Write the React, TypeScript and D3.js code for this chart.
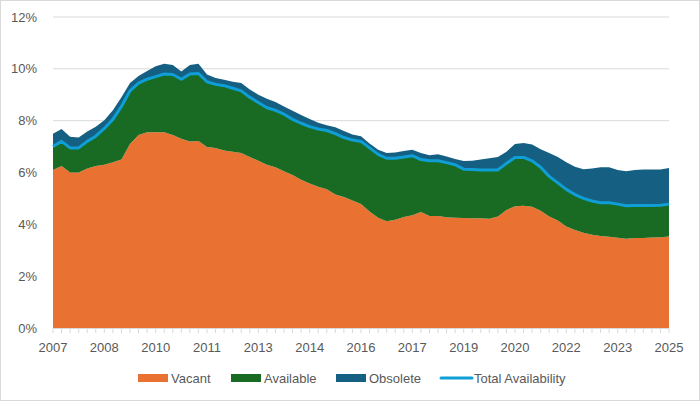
import React, { useEffect, useRef } from 'react';
import * as d3 from 'd3';

// quarterly, 2007 Q1 .. 2025 Q1 (percent of inventory)
const vacant = [
  6.1, 6.25, 6.0, 6.0, 6.15, 6.25, 6.3, 6.4, 6.5, 7.1, 7.45, 7.55, 7.55, 7.55, 7.45, 7.3,
  7.2, 7.22, 6.98, 6.95, 6.85, 6.8, 6.75, 6.6, 6.45, 6.3, 6.2, 6.05, 5.9, 5.72, 5.58, 5.45,
  5.35, 5.15, 5.05, 4.92, 4.78, 4.5, 4.25, 4.12, 4.18, 4.28, 4.35, 4.48, 4.32, 4.32, 4.27, 4.25,
  4.24, 4.23, 4.23, 4.22, 4.3, 4.55, 4.7, 4.72, 4.68, 4.52, 4.3, 4.15, 3.92, 3.78, 3.68, 3.6,
  3.55, 3.52, 3.48, 3.44, 3.47, 3.47, 3.49, 3.5, 3.53,
];
const available = [
  0.9, 0.95, 0.95, 0.95, 1.05, 1.15, 1.4, 1.65, 2.05, 2.05, 2.0, 2.05, 2.15, 2.25, 2.33, 2.3,
  2.6, 2.6, 2.52, 2.45, 2.5, 2.45, 2.4, 2.3, 2.25, 2.2, 2.2, 2.2, 2.15, 2.18, 2.19, 2.23,
  2.27, 2.35, 2.3, 2.33, 2.42, 2.45, 2.45, 2.43, 2.37, 2.32, 2.3, 2.02, 2.13, 2.13, 2.11, 2.05,
  1.89, 1.89, 1.87, 1.88, 1.8, 1.8, 1.88, 1.86, 1.77, 1.68, 1.55, 1.45, 1.43, 1.37, 1.32, 1.3,
  1.28, 1.31, 1.3, 1.28, 1.26, 1.26, 1.24, 1.24, 1.25,
];
const obsolete = [
  0.5, 0.48, 0.43, 0.4, 0.38, 0.37, 0.32, 0.35, 0.35, 0.3, 0.27, 0.32, 0.4, 0.4, 0.37, 0.3,
  0.35, 0.38, 0.28, 0.25, 0.23, 0.25, 0.3, 0.3, 0.3, 0.35, 0.32, 0.3, 0.33, 0.32, 0.29, 0.24,
  0.2, 0.25, 0.25, 0.22, 0.2, 0.17, 0.18, 0.2, 0.22, 0.23, 0.23, 0.25, 0.22, 0.25, 0.24, 0.22,
  0.31, 0.33, 0.4, 0.45, 0.5, 0.45, 0.52, 0.56, 0.63, 0.7, 0.9, 1.0, 1.05, 1.07, 1.13, 1.25,
  1.37, 1.37, 1.32, 1.33, 1.37, 1.39, 1.39, 1.38, 1.39,
];
// one label every 6 quarters
const xLabels = ['2007', '2008', '2010', '2011', '2013', '2014', '2016', '2017', '2019', '2020', '2022', '2023', '2025'];
const yTicks = [0, 2, 4, 6, 8, 10, 12];

const W = 700;
const H = 401;
const FONT = "Aptos, 'Liberation Sans', Arial, sans-serif";
const C_VAC = '#E97132';
const C_AVL = '#196B24';
const C_OBS = '#156082';
const C_TOT = '#0F9ED5';

export default function App() {
  const ref = useRef<SVGSVGElement>(null);

  useEffect(() => {
    if (!ref.current) return;
    const svg = d3.select(ref.current);
    svg.selectAll('*').remove();

    const n = vacant.length;
    const x = d3.scaleLinear().domain([0, n - 1]).range([53, 669]);
    const y = d3.scaleLinear().domain([0, 12]).range([328, 17]);

    svg.append('rect')
      .attr('x', 0.5).attr('y', 0.5).attr('width', W - 1).attr('height', H - 1)
      .attr('fill', '#fff').attr('stroke', '#d9d9d9');

    // gridlines + y labels
    yTicks.forEach(t => {
      if (t > 0) {
        svg.append('line')
          .attr('x1', 53).attr('x2', 669)
          .attr('y1', y(t)).attr('y2', y(t))
          .attr('stroke', '#d9d9d9').attr('stroke-width', 1);
      }
      svg.append('text')
        .attr('x', 37).attr('y', y(t)).attr('dy', '0.35em')
        .attr('text-anchor', 'end')
        .attr('font-family', FONT).attr('font-size', 13).attr('fill', '#595959')
        .text(`${t}%`);
    });

    const rows = vacant.map((v, i) => ({ i, vacant: v, available: available[i], obsolete: obsolete[i] }));
    const stack = d3.stack<any>().keys(['vacant', 'available', 'obsolete']);
    const series = stack(rows);
    const colors = [C_VAC, C_AVL, C_OBS];

    const area = d3.area<any>()
      .x(d => x(d.data.i))
      .y0(d => y(d[0]))
      .y1(d => y(d[1]));

    series.forEach((s, k) => {
      svg.append('path').datum(s).attr('d', area as any).attr('fill', colors[k]);
    });

    // total availability = vacant + available
    const line = d3.line<number>()
      .x((_, i) => x(i))
      .y(d => y(d));
    svg.append('path')
      .datum(vacant.map((v, i) => v + available[i]))
      .attr('d', line)
      .attr('fill', 'none')
      .attr('stroke', C_TOT)
      .attr('stroke-width', 3)
      .attr('stroke-linejoin', 'round');

    // x axis
    svg.append('line')
      .attr('x1', 53).attr('x2', 669).attr('y1', 328.5).attr('y2', 328.5)
      .attr('stroke', '#d9d9d9');
    d3.range(n).forEach(i => {
      svg.append('line')
        .attr('x1', x(i)).attr('x2', x(i)).attr('y1', 328.5).attr('y2', 333)
        .attr('stroke', '#d9d9d9');
    });
    xLabels.forEach((lab, k) => {
      svg.append('text')
        .attr('x', x(k * 6)).attr('y', 352)
        .attr('text-anchor', 'middle')
        .attr('font-family', FONT).attr('font-size', 13).attr('fill', '#595959')
        .text(lab);
    });

    // legend
    const legend = [
      { name: 'Vacant', color: C_VAC, x: 138, line: false },
      { name: 'Available', color: C_AVL, x: 231, line: false },
      { name: 'Obsolete', color: C_OBS, x: 336, line: false },
      { name: 'Total Availability', color: C_TOT, x: 441, line: true },
    ];
    const ly = 378;
    legend.forEach(l => {
      if (l.line) {
        svg.append('line')
          .attr('x1', l.x).attr('x2', l.x + 31).attr('y1', ly).attr('y2', ly)
          .attr('stroke', l.color).attr('stroke-width', 3).attr('stroke-linecap', 'round');
      } else {
        svg.append('rect')
          .attr('x', l.x).attr('y', ly - 4).attr('width', 30).attr('height', 8)
          .attr('fill', l.color);
      }
      svg.append('text')
        .attr('x', l.x + 33).attr('y', ly).attr('dy', '0.35em')
        .attr('font-family', FONT).attr('font-size', 13).attr('fill', '#595959')
        .text(l.name);
    });
  }, []);

  return (
    <div style={{ position: 'fixed', left: 0, top: 0 }}>
      <svg ref={ref} width={W} height={H} style={{ display: 'block' }} />
    </div>
  );
}
